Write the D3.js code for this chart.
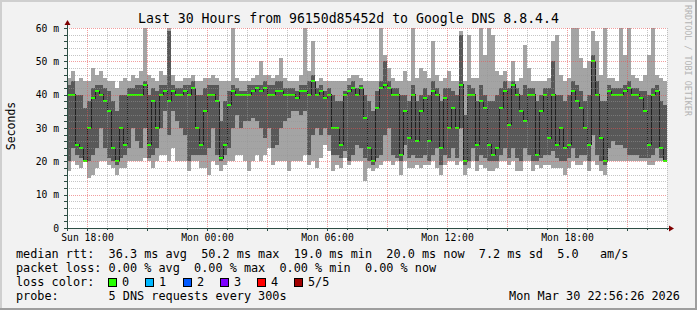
<!DOCTYPE html>
<html>
<head>
<meta charset="utf-8">
<script src="https://cdn.jsdelivr.net/npm/d3@7"></script>
<style>
  body { margin: 0; background: #f2f2f2; }
  svg { display: block; font-family: "DejaVu Sans Mono", monospace; }
</style>
</head>
<body>
<div id="chart"></div>
<script>
// smokeping rtt, one step every 12 minutes, in ms (5 pings sorted: min, 2nd, median, 4th, max)
const minRtt = [
  17,20,19,18,20,15,16,18,20,20, 19,18,16,18,18,20,20,20,20,21, 20,18,20,22,22,20,24,20,20,20,
  17,20,20,18,18,16,20,19,17,19, 20,20,22,22,20,17,20,22,20,22, 24,19,20,20,20,17,20,20,20,22,
  19,20,18,21,25,23,17,19,18,21, 19,20,20,20,14,18,17,18,19,20, 20,19,20,16,20,18,18,19,18,19,
  19,20,18,16,19,20,20,19,20,16, 18,20,17,19,18,17,17,18,20,20, 19,20,17,17,20,20,17,19,18,19,
  19,18,18,18,16,18,20,19,19,20, 17,20,19,17,16,20,20,20,20,20, 20,20,20,20,20,19,19,20,20,20
];
const loRtt = [
  20,24,22,21,20,20,22,24,30,24, 21,20,19,21,22,24,30,26,24,30, 21,22,24,30,35,28,35,32,30,28,
  20,22,22,22,22,24,30,22,20,22, 24,30,34,30,32,32,33,32,30,27, 30,24,25,30,32,33,35,35,34,35,
  22,28,30,28,30,28,22,22,21,23, 20,22,25,24,21,20,19,21,22,28, 30,22,21,20,25,21,22,21,21,22,
  20,22,24,19,22,21,24,21,30,19, 20,24,20,22,21,20,20,20,22,24, 21,24,21,20,24,22,20,20,21,22,
  22,23,21,20,20,21,24,21,22,22, 20,28,22,20,19,24,26,25,25,24, 22,22,22,21,21,21,22,24,21,20
];
const medianRtt = [
  40,40,25,24,20,30,39,41,40,38, 35,24,20,30,25,40,40,40,40,43, 25,38,30,40,41,38,41,40,40,41,
  40,42,30,25,35,40,40,38,21,25, 37,41,40,40,40,40,41,42,41,42, 40,40,41,41,40,40,40,39,41,41,
  40,44,40,41,39,40,30,30,25,40, 41,42,40,42,33,24,20,36,42,43, 42,40,40,22,35,27,40,26,35,39,
  26,41,40,24,39,30,36,30,43,20, 40,40,25,38,36,25,22,24,36,41, 31,43,40,35,32,40,40,22,35,40,
  27,40,25,30,24,25,41,38,36,30, 25,50,40,27,20,41,40,40,40,41, 42,40,40,39,35,25,40,41,24,20
];
const hiRtt = [
  43,44,40,40,36,38,42,43,43,42, 41,38,35,40,40,42,42,43,43,44, 40,42,41,43,43,59,43,42,42,43,
  43,44,40,40,42,43,43,43,32,38, 41,43,42,41,41,43,43,43,43,44, 43,43,44,44,42,42,42,41,43,43,
  44,46,42,43,41,42,40,38,38,41, 43,44,42,43,40,38,35,41,44,50, 44,42,42,40,40,38,43,38,40,42,
  40,44,42,38,42,42,41,40,58,34, 43,42,38,43,40,38,38,40,42,44, 42,44,42,40,43,42,42,38,40,42,
  42,50,40,40,38,40,44,43,41,38, 40,52,44,38,38,43,42,42,42,43, 44,42,42,41,41,40,42,43,38,37
];
const maxRtt = [
  45,47,44,45,44,44,48,46,47,45, 44,44,42,44,45,44,46,45,47,60, 46,45,44,47,46,60,46,44,44,45,
  45,46,44,44,45,45,46,45,44,44, 44,60,45,44,44,44,45,46,50,46, 46,45,46,51,45,44,44,44,46,60,
  47,56,44,45,44,44,44,44,44,44, 45,46,46,45,44,44,44,44,60,52, 48,45,44,44,47,44,60,45,48,47,
  45,56,46,44,45,47,44,44,59,44, 58,45,45,60,52,60,58,47,46,47, 44,50,44,45,55,48,44,44,44,44,
  45,56,58,46,44,45,60,60,51,48, 50,59,56,46,60,45,45,44,60,52, 60,46,45,44,46,52,60,46,45,44
];

const yTickValues = [0, 10, 20, 30, 40, 50, 60];
const yTickLabels = ["0", "10 m", "20 m", "30 m", "40 m", "50 m", "60 m"];
const xTickLabels = ["Sun 18:00", "Mon 00:00", "Mon 06:00", "Mon 12:00", "Mon 18:00"];

const lossLabels = ["0", "1", "2", "3", "4", "5/5"];
const lossColors = ["#26ff00", "#00b8ff", "#0059ff", "#7e00ff", "#ff0000", "#a10000"];

const rttLegend = "median rtt:  36.3 ms avg  50.2 ms max  19.0 ms min  20.0 ms now  7.2 ms sd  5.0   am/s";
const lossLegend = "packet loss: 0.00 % avg  0.00 % max  0.00 % min  0.00 % now";
const probeLegend = "probe:       5 DNS requests every 300s";
const stampLegend = "Mon Mar 30 22:56:26 2026";

// basic settings
const width = 697, height = 310;
const plot = { left: 67, right: 667, top: 28, bottom: 228 };
const stepMinutes = 12;
const startTime = Date.UTC(2026, 2, 29, 17, 0);
const endTime = Date.UTC(2026, 2, 30, 23, 0);

// keep runs of spaces in the monospace legend
const keepSpaces = s => s.replace(/ /g, "\u00a0");

const svg = d3.select("#chart").append("svg")
  .attr("width", width)
  .attr("height", height);

// background and 3d frame like rrdtool
svg.append("rect").attr("width", width).attr("height", height).attr("fill", "#f2f2f2");
svg.append("rect").attr("x", 0).attr("y", 0).attr("width", width).attr("height", 2).attr("fill", "#cfcfcf");
svg.append("rect").attr("x", 0).attr("y", 0).attr("width", 2).attr("height", height).attr("fill", "#cfcfcf");
svg.append("rect").attr("x", 0).attr("y", height - 2).attr("width", width).attr("height", 2).attr("fill", "#9e9e9e");
svg.append("rect").attr("x", width - 2).attr("y", 0).attr("width", 2).attr("height", height).attr("fill", "#9e9e9e");

// canvas
svg.append("rect")
  .attr("x", plot.left).attr("y", plot.top)
  .attr("width", plot.right - plot.left).attr("height", plot.bottom - plot.top)
  .attr("fill", "#ffffff");

// scales
const x = d3.scaleUtc().domain([startTime, endTime]).range([plot.left, plot.right]);
const y = d3.scaleLinear().domain([0, 60]).range([plot.bottom, plot.top]);

// one record per step, plus a closing record so the last step has width
const steps = medianRtt.map((m, i) => ({
  t: new Date(startTime + i * stepMinutes * 60000),
  min: minRtt[i], lo: loRtt[i], med: m, hi: hiRtt[i], max: maxRtt[i]
}));
const closing = Object.assign({}, steps[steps.length - 1], {
  t: new Date(startTime + steps.length * stepMinutes * 60000)
});
const stepsClosed = steps.concat([closing]);

const dataLayer = svg.append("g").attr("shape-rendering", "crispEdges");

// smoke: outer band (min..max) and inner band (2nd..4th)
dataLayer.append("path")
  .datum(stepsClosed)
  .attr("fill", "#a4a4a4")
  .attr("d", d3.area().curve(d3.curveStepAfter)
    .x(d => x(d.t)).y0(d => y(d.min)).y1(d => y(d.max)));
dataLayer.append("path")
  .datum(stepsClosed)
  .attr("fill", "#585858")
  .attr("d", d3.area().curve(d3.curveStepAfter)
    .x(d => x(d.t)).y0(d => y(d.lo)).y1(d => y(d.hi)));

// median line (dark) with loss coloured marks
dataLayer.append("path")
  .datum(stepsClosed)
  .attr("fill", "none")
  .attr("stroke", "#202020")
  .attr("stroke-width", 1)
  .attr("d", d3.line().curve(d3.curveStepAfter).x(d => x(d.t)).y(d => y(d.med)));
dataLayer.selectAll("rect.median")
  .data(steps)
  .join("rect")
  .attr("class", "median")
  .attr("x", d => x(d.t))
  .attr("width", (d, i) => x(stepsClosed[i + 1].t) - x(d.t))
  .attr("y", d => y(d.med) - 1)
  .attr("height", 2)
  .attr("fill", lossColors[0]);

// grid on top of the data
const grid = svg.append("g").attr("shape-rendering", "crispEdges").attr("stroke-dasharray", "1,1");
const hours = d3.utcHour.range(new Date(startTime + 3600000), new Date(endTime + 1));
grid.selectAll("line.vgrid")
  .data(hours)
  .join("line")
  .attr("x1", d => Math.round(x(d)) + 0.5).attr("x2", d => Math.round(x(d)) + 0.5)
  .attr("y1", plot.top).attr("y2", plot.bottom)
  .attr("stroke", d => d.getUTCHours() % 3 === 0 ? "rgba(230,80,80,0.55)" : "rgba(150,150,150,0.55)");
const yMinor = d3.range(2, 61, 2);
grid.selectAll("line.hgrid")
  .data(yMinor)
  .join("line")
  .attr("x1", plot.left).attr("x2", plot.right)
  .attr("y1", d => Math.round(y(d)) + 0.5).attr("y2", d => Math.round(y(d)) + 0.5)
  .attr("stroke", d => d % 10 === 0 ? "rgba(230,80,80,0.55)" : "rgba(150,150,150,0.55)");

// small tick marks on the axes
const ticks = svg.append("g").attr("shape-rendering", "crispEdges").attr("stroke", "#2c4d43");
ticks.selectAll("line.yt")
  .data(d3.range(0, 61, 2))
  .join("line")
  .attr("x1", plot.left - 3).attr("x2", plot.left)
  .attr("y1", d => Math.round(y(d)) + 0.5).attr("y2", d => Math.round(y(d)) + 0.5);
ticks.selectAll("line.xt")
  .data(hours)
  .join("line")
  .attr("x1", d => Math.round(x(d)) + 0.5).attr("x2", d => Math.round(x(d)) + 0.5)
  .attr("y1", plot.bottom).attr("y2", d => plot.bottom + (d.getUTCHours() % 3 === 0 ? 3 : 2));

// axis lines with arrows
svg.append("line")
  .attr("x1", plot.left - 3).attr("x2", plot.right + 2)
  .attr("y1", plot.bottom + 0.5).attr("y2", plot.bottom + 0.5)
  .attr("stroke", "#2c4d43").attr("shape-rendering", "crispEdges");
svg.append("line")
  .attr("x1", plot.left + 0.5).attr("x2", plot.left + 0.5)
  .attr("y1", plot.bottom + 3).attr("y2", plot.top - 3)
  .attr("stroke", "#2c4d43").attr("shape-rendering", "crispEdges");
svg.append("path")
  .attr("d", `M${plot.right + 2},${plot.bottom - 2.5}L${plot.right + 7},${plot.bottom + 0.5}L${plot.right + 2},${plot.bottom + 3.5}Z`)
  .attr("fill", "#7f0000");
svg.append("path")
  .attr("d", `M${plot.left - 2.5},${plot.top - 3}L${plot.left + 0.5},${plot.top - 8}L${plot.left + 3.5},${plot.top - 3}Z`)
  .attr("fill", "#7f0000");

// axis labels through d3 axes
const xAxis = svg.append("g")
  .attr("transform", `translate(0,${plot.bottom})`)
  .call(d3.axisBottom(x)
    .ticks(d3.utcHour.every(6))
    .tickFormat((d, i) => xTickLabels[i])
    .tickSize(0)
    .tickPadding(6));
const yAxis = svg.append("g")
  .attr("transform", `translate(${plot.left},0)`)
  .call(d3.axisLeft(y)
    .tickValues(yTickValues)
    .tickFormat((d, i) => yTickLabels[i])
    .tickSize(0)
    .tickPadding(8));
[xAxis, yAxis].forEach(g => {
  g.select(".domain").remove();
  g.attr("font-family", null).attr("font-size", null);
  g.selectAll("text").attr("font-size", "9.7px").attr("fill", "#000");
});

// title
svg.append("text")
  .attr("x", width / 2).attr("y", 23)
  .attr("text-anchor", "middle")
  .attr("font-size", "13.2px")
  .text("Last 30 Hours from 96150d85452d to Google DNS 8.8.4.4");

// vertical axis title
svg.append("text")
  .attr("transform", "translate(15,126) rotate(-90)")
  .attr("text-anchor", "middle")
  .attr("font-size", "11.5px")
  .text("Seconds");

// rrdtool watermark on the right edge
svg.append("text")
  .attr("transform", "translate(685,5) rotate(90)")
  .attr("font-size", "8.4px")
  .attr("fill", "#b4b4b4")
  .text("RRDTOOL / TOBI OETIKER");

// legend, monospace lines laid out on the character grid
const legend = svg.append("g").attr("font-size", "11.83px");
legend.append("text").attr("x", 16).attr("y", 258).text(keepSpaces(rttLegend));
legend.append("text").attr("x", 16).attr("y", 272).text(keepSpaces(lossLegend));
legend.append("text").attr("x", 16).attr("y", 286).text("loss color:");
const boxX = [108, 145, 183, 220, 257, 294];
lossLabels.forEach((label, i) => {
  legend.append("rect")
    .attr("x", boxX[i] + 0.5).attr("y", 278.5)
    .attr("width", 8).attr("height", 8)
    .attr("fill", lossColors[i])
    .attr("stroke", "#000").attr("stroke-width", 1);
  legend.append("text").attr("x", boxX[i] + 14).attr("y", 286).text(label);
});
legend.append("text").attr("x", 16).attr("y", 300).text(keepSpaces(probeLegend));
legend.append("text").attr("x", 680).attr("y", 300).attr("text-anchor", "end").text(stampLegend);
</script>
</body>
</html>
